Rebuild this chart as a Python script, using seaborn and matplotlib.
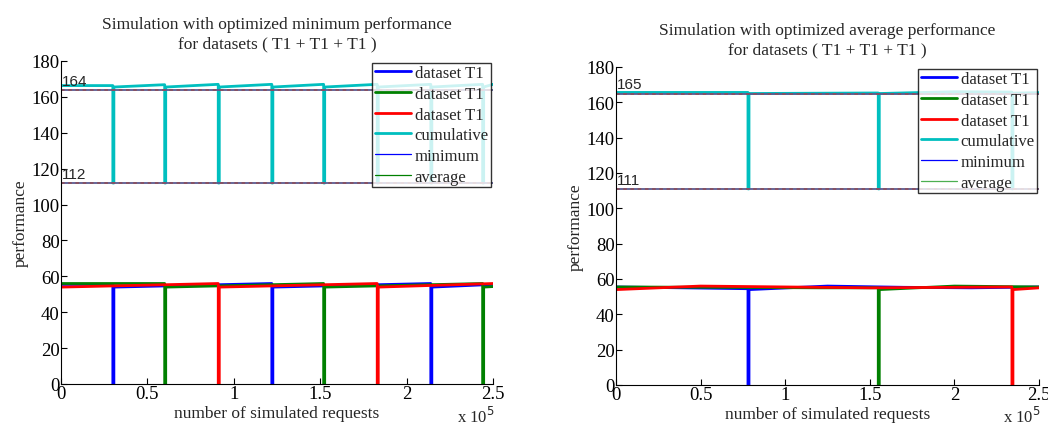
import numpy as np
import pandas as pd
import matplotlib
matplotlib.use("Agg")
import matplotlib.pyplot as plt
import seaborn as sns

# Values (x in units of 1e5 requests)
XMAX = 2.5
GAP = 0.006

# left panel: optimized minimum performance
L_blue_start, L_blue_end = 55.5, 55.5
L_blue_drops = [0.30, 1.22, 2.14]
L_blue_before = [55.5, 56.0, 56.0]
L_blue_after = [54.0, 54.0, 54.0]

L_green_start, L_green_end = 56.0, 54.3
L_green_drops = [0.60, 1.52, 2.44]
L_green_before = [56.0, 56.0, 56.0]
L_green_after = [54.0, 54.0, 54.0]

L_red_start, L_red_end = 54.0, 56.0
L_red_drops = [0.91, 1.83]
L_red_before = [56.0, 56.0]
L_red_after = [54.0, 54.0]

L_cum_start, L_cum_end = 166.3, 167.0
L_cum_drops = [0.30, 0.60, 0.91, 1.22, 1.52, 1.83, 2.14, 2.44]
L_cum_before = [166.3, 166.8, 167.0, 167.0, 167.0, 167.0, 167.0, 167.0]
L_cum_after = [165.5, 165.5, 165.5, 165.5, 165.5, 165.5, 165.5, 165.5]
L_cum_floor = 112
L_levels = [164, 112]

# right panel: optimized average performance
R_blue_x = [0, 0.4, 0.78, 0.78, 0.786, 0.786, 1.25, 1.7, 2.1, 2.5]
R_blue_y = [55.5, 55.0, 54.5, 0, 0, 54.0, 56.0, 55.3, 55.0, 55.5]
R_green_x = [0, 0.8, 1.2, 1.55, 1.55, 1.556, 1.556, 2.0, 2.5]
R_green_y = [55.5, 55.2, 55.0, 55.0, 0, 0, 54.0, 56.0, 55.5]
R_red_x = [0, 0.5, 1.0, 1.5, 2.0, 2.34, 2.34, 2.346, 2.346, 2.5]
R_red_y = [54.0, 56.0, 55.5, 55.0, 55.3, 55.5, 0, 0, 54.0, 55.0]
R_cum_x = [0, 0.78, 0.78, 0.786, 0.786, 1.55, 1.55, 1.556, 1.556, 2.0, 2.34, 2.34, 2.346, 2.346, 2.5]
R_cum_y = [165.6, 165.6, 111, 111, 165.0, 165.3, 111, 111, 165.0, 166.0, 165.8, 111, 111, 165.2, 165.5]
R_levels = [165, 111]

legend_labels = ["dataset T1", "dataset T1", "dataset T1", "cumulative", "minimum", "average"]


def series(start, drops, before, after, floor, end):
    xs, ys = [0.0], [start]
    for d, b, a in zip(drops, before, after):
        xs += [d, d, d + GAP, d + GAP]
        ys += [b, floor, floor, a]
    xs.append(XMAX)
    ys.append(end)
    return pd.DataFrame({"x": xs, "y": ys})


sns.set_style("white")
plt.rcParams["font.family"] = ["Liberation Serif", "DejaVu Serif"]

fig = plt.figure(figsize=(10.48, 4.27), dpi=100)
ax1 = fig.add_axes([61 / 1048, 42 / 427, 432 / 1048, 323 / 427])
ax2 = fig.add_axes([616 / 1048, 41 / 427, 423 / 1048, 318 / 427])

left = [
    (series(L_blue_start, L_blue_drops, L_blue_before, L_blue_after, 0, L_blue_end), "#0000ff"),
    (series(L_green_start, L_green_drops, L_green_before, L_green_after, 0, L_green_end), "#008000"),
    (series(L_red_start, L_red_drops, L_red_before, L_red_after, 0, L_red_end), "#ff0000"),
    (series(L_cum_start, L_cum_drops, L_cum_before, L_cum_after, L_cum_floor, L_cum_end), "#00bfbf"),
]
right = [
    (pd.DataFrame({"x": R_blue_x, "y": R_blue_y}), "#0000ff"),
    (pd.DataFrame({"x": R_green_x, "y": R_green_y}), "#008000"),
    (pd.DataFrame({"x": R_red_x, "y": R_red_y}), "#ff0000"),
    (pd.DataFrame({"x": R_cum_x, "y": R_cum_y}), "#00bfbf"),
]

panels = [
    (ax1, left, L_levels, "Simulation with optimized minimum performance\nfor datasets ( T1 + T1 + T1 )", "#008000"),
    (ax2, right, R_levels, "Simulation with optimized average performance\nfor datasets ( T1 + T1 + T1 )", "#4caf50"),
]

for ax, lines, levels, title, avg_col in panels:
    handles = []
    for df, col in lines:
        sns.lineplot(data=df, x="x", y="y", ax=ax, color=col, lw=2.0, sort=False,
                     estimator=None, legend=False)
        handles.append(ax.lines[-1])
    hl = pd.DataFrame({"x": [0, XMAX]})
    for lv in levels:
        ax.plot(hl["x"], [lv, lv], color="#5a5a90", lw=1.3)
        ax.plot(hl["x"], [lv, lv], color="#8a5060", lw=1.3, ls=(0, (2, 2)))
        ax.text(0.005, lv + 1.2, str(lv), family=["Liberation Sans", "DejaVu Sans"],
                fontsize=11, ha="left", va="bottom")
    h_min, = ax.plot([], [], color="#0000ff", lw=0.9)
    h_avg, = ax.plot([], [], color=avg_col, lw=0.9)
    handles += [h_min, h_avg]

    ax.set_xlim(0, XMAX)
    ax.set_ylim(0, 180)
    ax.set_xticks([0, 0.5, 1, 1.5, 2, 2.5])
    ax.set_xticklabels(["0", "0.5", "1", "1.5", "2", "2.5"])
    ax.set_yticks(range(0, 181, 20))
    ax.tick_params(direction="in", length=4, labelsize=13.5, pad=1, colors="black",
                   left=True, bottom=True)
    for s in ["top", "right"]:
        ax.spines[s].set_visible(False)
    for s in ["left", "bottom"]:
        ax.spines[s].set_color("black")
        ax.spines[s].set_linewidth(0.8)
    ax.set_xlabel("number of simulated requests", fontsize=12.5, labelpad=2)
    ax.set_ylabel("performance", fontsize=12.5, labelpad=2)
    ax.set_title(title, fontsize=12.5, pad=10, linespacing=1.3)
    ax.text(1.0, 0.0, r"x 10$^5$", transform=fig.transFigure, fontsize=12,
            ha="right", va="bottom")
    ax.texts[-1].set_x(ax.get_position().x1 + 0.002)
    leg = ax.legend(handles, legend_labels, loc="upper right", fontsize=12,
                    frameon=True, fancybox=False, handlelength=2.2, handletextpad=0.2,
                    labelspacing=0.28, borderpad=0.15, borderaxespad=0.1)
    leg.get_frame().set_edgecolor("black")
    leg.get_frame().set_linewidth(1.0)

fig.savefig("out.png", dpi=100)
